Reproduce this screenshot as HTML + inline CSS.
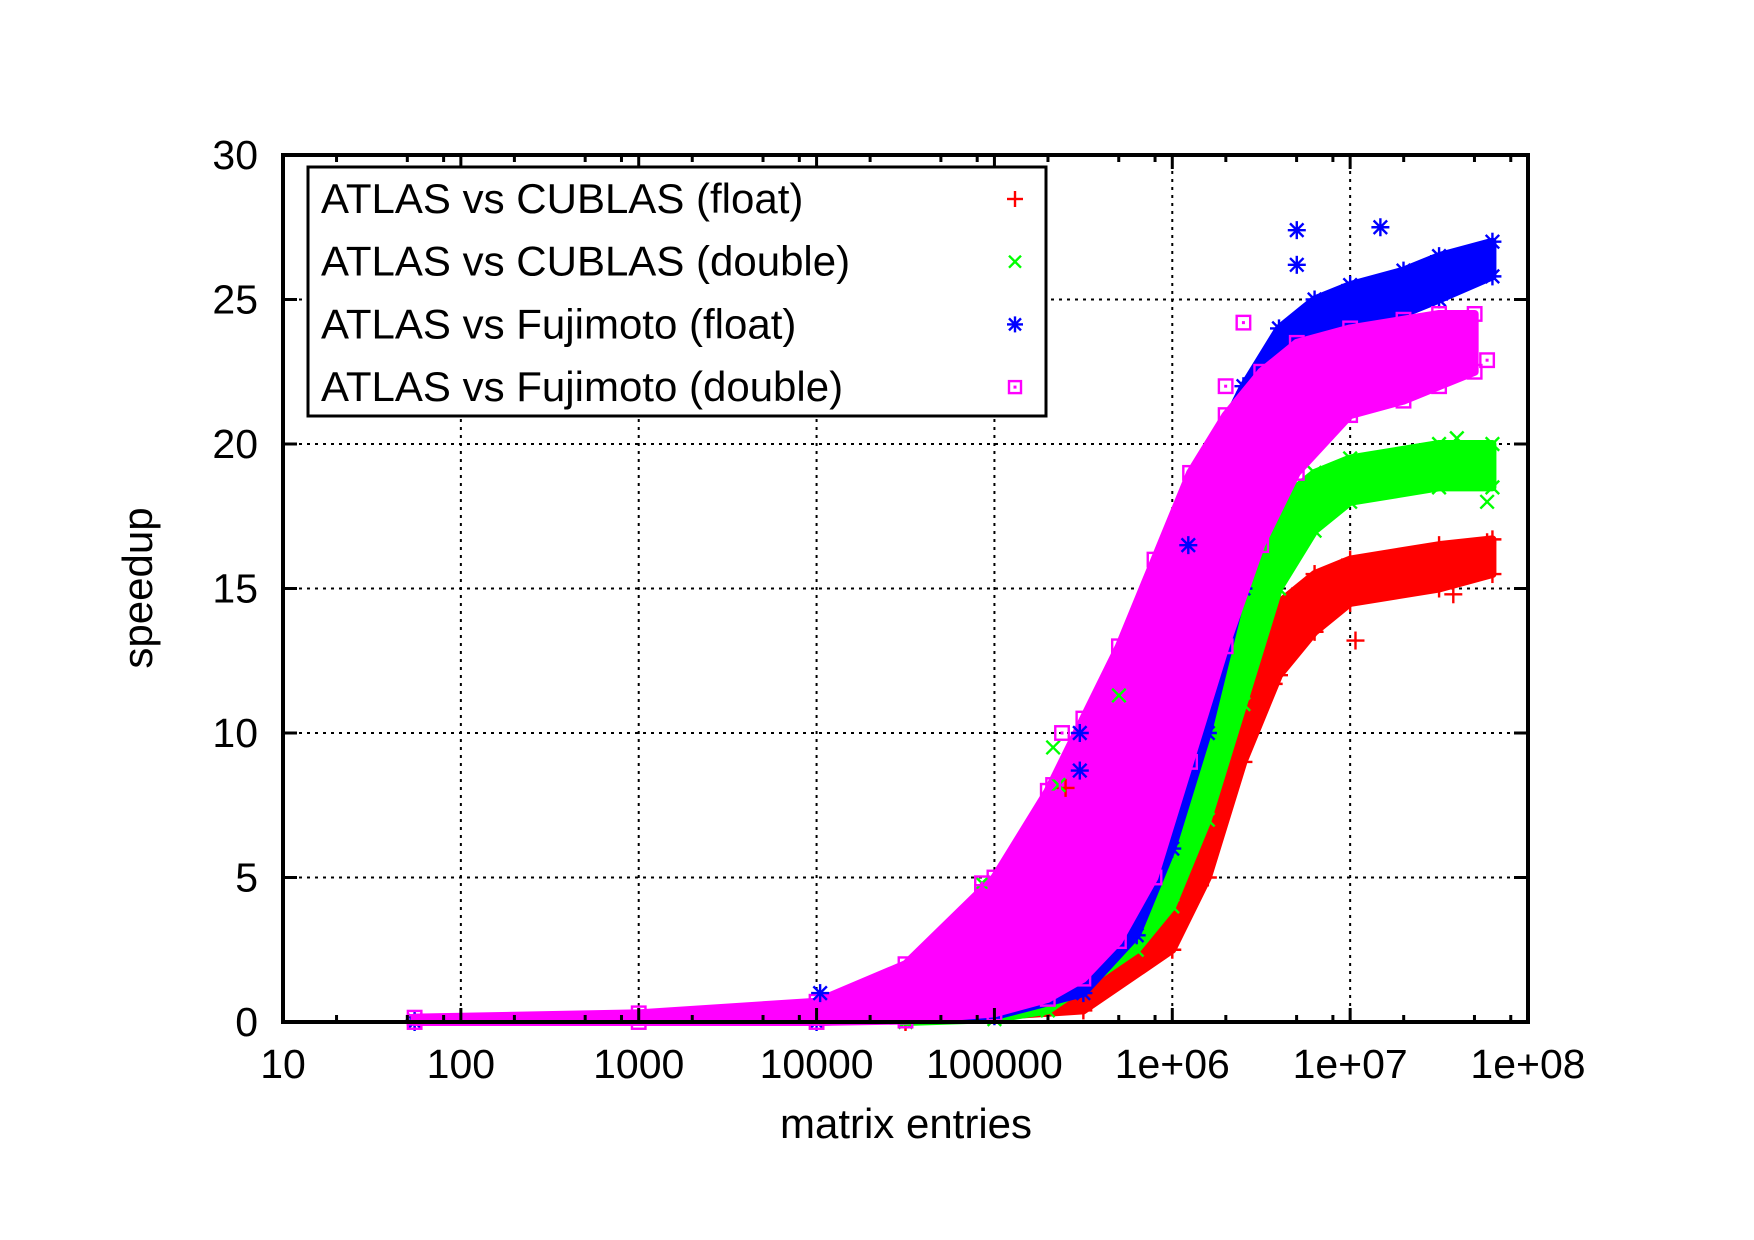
<!DOCTYPE html>
<html><head><meta charset="utf-8"><style>
html,body{margin:0;padding:0;background:#fff}
svg{display:block}
text{font-family:"Liberation Sans",sans-serif;fill:#000}
</style></head><body>
<svg id="chart" width="1754" height="1240" viewBox="0 0 1754 1240" xmlns="http://www.w3.org/2000/svg">
<rect width="1754" height="1240" fill="#fff"/>
<g id="grid"></g>
<g id="bands"></g>
<g id="points"></g>
<g id="axes"></g>
<g id="legend"></g>
<text transform="translate(152,588) rotate(-90)" font-size="42" text-anchor="middle">speedup</text>
<text x="906" y="1138" font-size="42" text-anchor="middle">matrix entries</text>
</svg>
<script>
const xTickExp=[1,2,3,4,5,6,7,8];
const xTickLabels=["10","100","1000","10000","100000","1e+06","1e+07","1e+08"];
const yTicks=[0,5,10,15,20,25,30];
const seriesNames=["ATLAS vs CUBLAS (float)","ATLAS vs CUBLAS (double)","ATLAS vs Fujimoto (float)","ATLAS vs Fujimoto (double)"];
const seriesColors=["#ff0000","#00ff00","#0000ff","#ff00ff"];
// band envelopes: log10(entries), low speedup, high speedup
const redX=[4.5,5.5,6,6.2,6.4,6.6,6.8,7,7.5,7.8];
const redHi=[0.05,1,4,8,12,14.5,15.5,16,16.5,16.7];
const redLo=[0,0.4,2.5,5,9,12,13.5,14.5,15,15.5];
const greenX=[4.5,5,5.3,5.8,6,6.2,6.4,6.6,6.8,7,7.5,7.8];
const greenHi=[0.05,0.5,1.5,5,8,12,16,18,19,19.5,20,20];
const greenLo=[0,0.1,0.4,2.5,4,7,11,15,17,18,18.5,18.5];
const blueX=[1.74,4,5,5.5,5.8,6,6.2,6.4,6.6,6.8,7,7.3,7.5,7.8];
const blueHi=[0.05,0.4,3.5,9,13,16,19.5,22,24,25,25.5,26,26.5,27];
const blueLo=[0,0,0.2,1,3,6,10,15,20,23,24,24.5,25,25.8];
const magX=[1.74,3,4,4.5,5,5.3,5.5,5.7,5.9,6.1,6.3,6.5,6.7,7,7.3,7.5,7.7];
const magHi=[0.15,0.3,0.7,2,5,8,10.5,13,16,19,21,22.5,23.5,24,24.3,24.5,24.5];
const magLo=[0,0,0,0.05,0.3,0.8,1.5,2.8,5,9,13,16.5,19,21,21.5,22,22.5];
// outliers
const redOutX=[6.57,7.03,7.77,7.58,5.4];
const redOutY=[11.7,13.2,16.6,14.8,8.1];
const greenOutX=[5.33,5.7,7.6,7.77,5.36,4.93];
const greenOutY=[9.5,11.3,20.2,18,8.2,4.8];
const blueOutX=[4.02,5.48,5.48,6.7,7.17,6.09,6.7];
const blueOutY=[1,10,8.7,27.4,27.5,16.5,26.2];
const magOutX=[4.93,5.33,5.38,6.4,6.3,5.9,7.77,4.93];
const magOutY=[4.5,8.2,10,24.2,22,14,22.9,4.8];
const minorSteps=[2,5,8];

const L=283,R=1528,T=155,B=1022;
const sx=e=>L+(e-1)*(R-L)/7;
const sy=v=>B-v*(B-T)/30;
const NS="http://www.w3.org/2000/svg";
function mk(tag,parent,attrs){const e=document.createElementNS(NS,tag);for(const k in attrs)e.setAttribute(k,attrs[k]);parent.appendChild(e);return e;}
const grid=document.getElementById('grid'),axes=document.getElementById('axes'),bands=document.getElementById('bands'),pts=document.getElementById('points'),leg=document.getElementById('legend');

xTickExp.forEach((e,i)=>{
  if(i>0&&i<xTickExp.length-1){const g=mk('line',grid,{x1:sx(e),x2:sx(e),y1:T,y2:B,stroke:'#000','stroke-width':2,'stroke-dasharray':'3,5'});
  
  }
  const t=mk('text',axes,{x:sx(e),y:1078,'font-size':41,'text-anchor':'middle'});t.textContent=xTickLabels[i];
  
  
  mk('line',axes,{x1:sx(e),x2:sx(e),y1:B,y2:B-14,stroke:'#000','stroke-width':3});
  mk('line',axes,{x1:sx(e),x2:sx(e),y1:T,y2:T+14,stroke:'#000','stroke-width':3});
  if(e<8)minorSteps.forEach(m=>{const x=sx(e+Math.log10(m));
    mk('line',axes,{x1:x,x2:x,y1:B,y2:B-7,stroke:'#000','stroke-width':3});
    mk('line',axes,{x1:x,x2:x,y1:T,y2:T+7,stroke:'#000','stroke-width':3});});
});
yTicks.forEach(v=>{
  if(v>0&&v<30){const g=mk('line',grid,{x1:L,x2:R,y1:sy(v),y2:sy(v),stroke:'#000','stroke-width':2,'stroke-dasharray':'3,5'});
  
  }
  const t=mk('text',axes,{x:258,y:sy(v)+14,'font-size':41,'text-anchor':'end'});t.textContent=v;
  
  
  mk('line',axes,{x1:L,x2:L+14,y1:sy(v),y2:sy(v),stroke:'#000','stroke-width':3});
  mk('line',axes,{x1:R,x2:R-14,y1:sy(v),y2:sy(v),stroke:'#000','stroke-width':3});
});
const fr=mk('rect',axes,{x:L,y:T,width:R-L,height:B-T,fill:'none',stroke:'#000','stroke-width':4});



function marker(parent,i,x,y,s){
  const c=seriesColors[i];const g=mk('g',parent,{stroke:c,'stroke-width':2.4,fill:'none'});
  if(i===0||i===2){mk('line',g,{x1:x-s,x2:x+s,y1:y,y2:y});mk('line',g,{x1:x,x2:x,y1:y-s,y2:y+s});}
  if(i===1||i===2){mk('line',g,{x1:x-s*.75,x2:x+s*.75,y1:y-s*.75,y2:y+s*.75});mk('line',g,{x1:x-s*.75,x2:x+s*.75,y1:y+s*.75,y2:y-s*.75});}
  if(i===3){mk('rect',g,{x:x-s*.75,y:y-s*.75,width:s*1.5,height:s*1.5});mk('rect',g,{x:x-1.5,y:y-1.5,width:3,height:3,fill:c,stroke:'none'});}
  return g;
}
const bandSets=[[redX,redLo,redHi],[greenX,greenLo,greenHi],[blueX,blueLo,blueHi],[magX,magLo,magHi]];
const outSets=[[redOutX,redOutY],[greenOutX,greenOutY],[blueOutX,blueOutY],[magOutX,magOutY]];
bandSets.forEach((b,i)=>{
  const [X,Lo,Hi]=b;
  let d=X.map((x,k)=>(k?'L':'M')+sx(x)+','+sy(Hi[k])).join(' ');
  for(let k=X.length-1;k>=0;k--)d+=' L'+sx(X[k])+','+sy(Lo[k]);
  const p=mk('path',bands,{d:d+' Z',fill:seriesColors[i],stroke:seriesColors[i],'stroke-width':8,'stroke-linejoin':'round'});
  
  
  X.forEach((x,k)=>{marker(bands,i,sx(x),sy(Hi[k]),9);marker(bands,i,sx(x),sy(Lo[k]),9);});
  const [OX,OY]=outSets[i];
  OX.forEach((x,k)=>{const m=marker(pts,i,sx(x),sy(OY[k]),9);
    
    });
});

const lb=mk('rect',leg,{x:308,y:167,width:738,height:249,fill:'#fff',stroke:'#000','stroke-width':3});


seriesNames.forEach((n,i)=>{
  const y=199+i*62.7;
  const t=mk('text',leg,{x:321,y:y+14,'font-size':42});t.textContent=n;
  
  
  marker(leg,i,1015,y,8);
});
</script>
</body></html>
